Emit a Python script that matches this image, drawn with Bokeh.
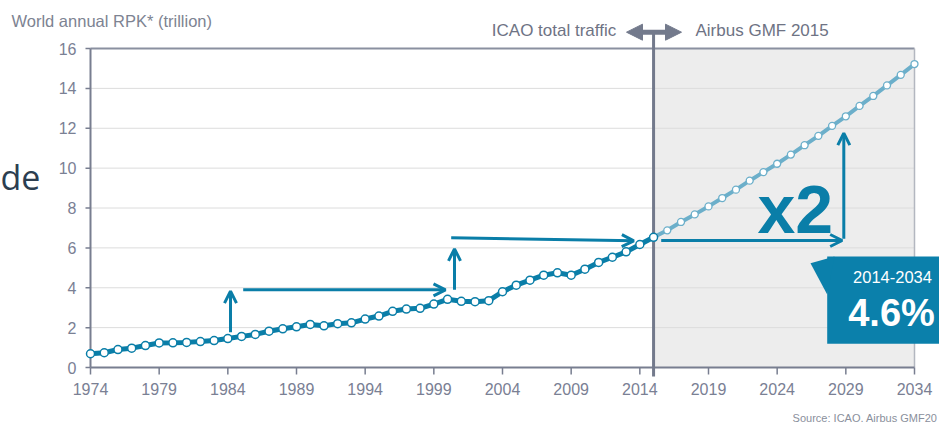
from bokeh.plotting import figure
from bokeh.models import Range1d, Label, Arrow, OpenHead, NormalHead
from bokeh.core.properties import value
from bokeh.embed import file_html
from bokeh.resources import INLINE

# ---------------- data ----------------
years_hist = list(range(1974, 2016))
rpk_hist = [0.69, 0.74, 0.90, 0.97, 1.10, 1.23, 1.24, 1.26, 1.30, 1.35,
            1.45, 1.56, 1.66, 1.82, 1.94, 2.04, 2.16, 2.09, 2.20, 2.24,
            2.43, 2.58, 2.82, 2.93, 2.97, 3.18, 3.42, 3.32, 3.30, 3.35,
            3.80, 4.13, 4.38, 4.63, 4.75, 4.63, 4.93, 5.27, 5.53, 5.80,
            6.17, 6.53]
years_fcst = list(range(2015, 2035))
rpk_fcst = [6.53, 6.88, 7.30, 7.68, 8.08, 8.50, 8.92, 9.37, 9.80, 10.22,
            10.68, 11.15, 11.62, 12.12, 12.60, 13.12, 13.62, 14.15, 14.68, 15.22]
x_ticks = [1974, 1979, 1984, 1989, 1994, 1999, 2004, 2009, 2014, 2019, 2024, 2029, 2034]
y_ticks = [0, 2, 4, 6, 8, 10, 12, 14, 16]

title_text = "World annual RPK* (trillion)"
left_header = "ICAO total traffic"
right_header = "Airbus GMF 2015"
period_text = "2014-2034"
rate_text = "4.6%"
mult_text = "x2"
source_text = "Source: ICAO. Airbus GMF20"
slide_text = "de"

# ---------------- styles ----------------
TEAL = "#0a7ea8"
LIGHT = "#6cafca"
GREY = "#737a8c"
AXIS = "#787e90"
LABEL = "#7a8094"
FONT = "Liberation Sans"

# page-pixel -> data helpers (the frame covers the whole canvas)
PX_YEAR = 824 / 60.0
PX_UNIT = 319 / 16.0
def X(px):
    return 1974 + (px - 90) / PX_YEAR
def Y(py):
    return (367 - py) / PX_UNIT

W, H = 939, 425
p = figure(width=W, height=H,
           x_range=Range1d(X(0), X(W)), y_range=Range1d(Y(H), Y(0)),
           x_axis_type=None, y_axis_type=None,
           output_backend="svg", toolbar_location=None,
           min_border_left=0, min_border_right=0, min_border_top=0, min_border_bottom=0)
p.outline_line_color = None
p.grid.visible = False
p.background_fill_color = "white"
p.border_fill_color = "white"

x_first, x_last = x_ticks[0], x_ticks[-1]
y_top = y_ticks[-1]
split = years_fcst[0]

# forecast shaded region
p.quad(left=[split], right=[x_last], bottom=[0], top=[y_top], fill_color="#ededed", line_color=None)

# gridlines
inner = y_ticks[1:-1]
p.segment(x0=[x_first] * len(inner), x1=[x_last] * len(inner), y0=inner, y1=inner,
          line_color="#dcdcdc", line_width=1)
p.segment(x0=[x_first], x1=[x_last], y0=[y_top], y1=[y_top], line_color="#8a90a0", line_width=2)
p.segment(x0=[x_last], x1=[x_last], y0=[0], y1=[y_top], line_color="#b3b7c0", line_width=1.5)

# axes lines and ticks
p.segment(x0=[x_first], x1=[x_first], y0=[0], y1=[y_top], line_color=AXIS, line_width=2)
p.segment(x0=[x_first - 5 / PX_YEAR] * len(y_ticks), x1=[x_first] * len(y_ticks),
          y0=y_ticks, y1=y_ticks, line_color=AXIS, line_width=1.5)
p.segment(x0=[x_first], x1=[x_last], y0=[0], y1=[0], line_color=AXIS, line_width=2)
p.segment(x0=x_ticks, x1=x_ticks, y0=[0] * len(x_ticks), y1=[-7 / PX_UNIT] * len(x_ticks),
          line_color=AXIS, line_width=1.5)

# tick labels
p.text(x=[X(76)] * len(y_ticks), y=y_ticks, text=[str(t) for t in y_ticks],
       text_font=value(FONT), text_font_size="16px", text_color=LABEL,
       text_align="right", text_baseline="middle")
p.text(x=x_ticks, y=[Y(388)] * len(x_ticks), text=[str(t) for t in x_ticks],
       text_font=value(FONT), text_font_size="16px", text_color=LABEL,
       text_align="center", text_baseline="middle")

# divider
p.segment(x0=[split], x1=[split], y0=[Y(376)], y1=[Y(31.7)], line_color=GREY, line_width=3)

# data
p.line(years_fcst, rpk_fcst, line_color=LIGHT, line_width=4)
p.scatter(years_fcst, rpk_fcst, size=7, fill_color="white", line_color=LIGHT, line_width=1.3)
p.line(years_hist, rpk_hist, line_color=TEAL, line_width=5)
p.scatter(years_hist, rpk_hist, size=8, fill_color="white", line_color=TEAL, line_width=1.5)

# header arrow
p.add_layout(Arrow(x_start=X(626), y_start=Y(31.7), x_end=X(681), y_end=Y(31.7),
                   line_color=GREY, line_width=5,
                   start=NormalHead(size=16, fill_color=GREY, line_color=GREY),
                   end=NormalHead(size=16, fill_color=GREY, line_color=GREY)))

# teal annotation arrows
arrows = [
    (X(230), Y(331.7), X(230), Y(290.7)),
    (X(242.7), Y(289.3), X(445), Y(289.3)),
    (X(454), Y(289.3), X(454), Y(248.3)),
    (X(450.7), Y(237.3), X(633.3), Y(240.3)),
    (X(660.7), Y(240), X(841.7), Y(240)),
    (X(843.3), Y(238.3), X(843.3), Y(132.7)),
]
for xs, ys, xe, ye in arrows:
    p.add_layout(Arrow(x_start=xs, y_start=ys, x_end=xe, y_end=ye,
                       line_color=TEAL, line_width=3,
                       end=OpenHead(size=12, line_width=3, line_color=TEAL)))

# callout
p.quad(left=[X(826.7)], right=[X(950)], bottom=[Y(343.3)], top=[Y(256)], fill_color="#0b80ab", line_color=None)
p.patch([X(810), X(834), X(826.7)], [Y(262.7), Y(256), Y(294)], fill_color="#0b80ab", line_color=None)

def lab(x, y, text, size, color, align="left", baseline="middle", bold=False, font=FONT):
    p.add_layout(Label(x=x, y=y, text=text, text_font=font, text_font_size=size,
                       text_color=color, text_align=align, text_baseline=baseline,
                       text_font_style="bold" if bold else "normal"))

lab(X(757), Y(208), mult_text, "68px", TEAL, bold=True)
lab(X(892), Y(276), period_text, "16.5px", "white", align="center")
lab(X(891), Y(312.5), rate_text, "38px", "white", align="center", bold=True)

lab(X(11), Y(20), title_text, "16.5px", "#7d8392")
lab(X(615.7), Y(30), left_header, "17px", "#6e7384", align="right")
lab(X(695), Y(30), right_header, "17px", "#6e7384")
lab(X(937), Y(417), source_text, "11px", "#8a8f9c", align="right")
lab(X(0), Y(176), slide_text, "34px", "#2c3e50", font="Open Sans")

open("out.html", "w").write(file_html(p, INLINE))
